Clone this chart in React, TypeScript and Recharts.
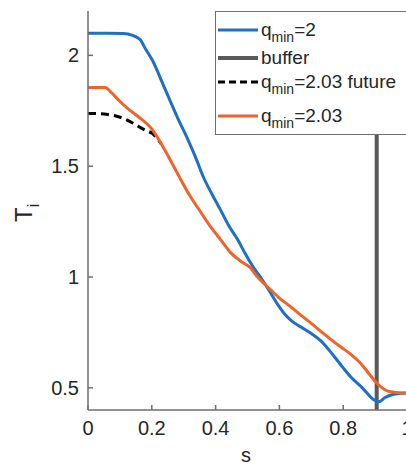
import { Label, Legend, Line, LineChart, ReferenceLine, XAxis, YAxis } from "recharts";

// s (normalised radius) vs T_i profiles
const qmin2 = [
  { s: 0, T: 2.1 },
  { s: 0.06, T: 2.1 },
  { s: 0.11, T: 2.099 },
  { s: 0.14, T: 2.09 },
  { s: 0.164, T: 2.07 },
  { s: 0.18, T: 2.03 },
  { s: 0.201, T: 1.98 },
  { s: 0.242, T: 1.846 },
  { s: 0.283, T: 1.711 },
  { s: 0.31, T: 1.63 },
  { s: 0.336, T: 1.544 },
  { s: 0.362, T: 1.45 },
  { s: 0.39, T: 1.37 },
  { s: 0.415, T: 1.304 },
  { s: 0.44, T: 1.235 },
  { s: 0.469, T: 1.169 },
  { s: 0.495, T: 1.1 },
  { s: 0.519, T: 1.042 },
  { s: 0.545, T: 0.99 },
  { s: 0.572, T: 0.929 },
  { s: 0.595, T: 0.875 },
  { s: 0.613, T: 0.839 },
  { s: 0.64, T: 0.8 },
  { s: 0.667, T: 0.775 },
  { s: 0.7, T: 0.745 },
  { s: 0.73, T: 0.712 },
  { s: 0.77, T: 0.645 },
  { s: 0.8, T: 0.59 },
  { s: 0.824, T: 0.549 },
  { s: 0.86, T: 0.5 },
  { s: 0.896, T: 0.446 },
  { s: 0.912, T: 0.437 },
  { s: 0.93, T: 0.455 },
  { s: 0.95, T: 0.468 },
  { s: 1, T: 0.477 }
];

const qmin203 = [
  { s: 0, T: 1.855 },
  { s: 0.053, T: 1.855 },
  { s: 0.075, T: 1.83 },
  { s: 0.094, T: 1.801 },
  { s: 0.125, T: 1.76 },
  { s: 0.157, T: 1.724 },
  { s: 0.201, T: 1.666 },
  { s: 0.23, T: 1.6 },
  { s: 0.252, T: 1.544 },
  { s: 0.285, T: 1.455 },
  { s: 0.321, T: 1.363 },
  { s: 0.35, T: 1.3 },
  { s: 0.384, T: 1.227 },
  { s: 0.415, T: 1.17 },
  { s: 0.447, T: 1.11 },
  { s: 0.48, T: 1.07 },
  { s: 0.509, T: 1.042 },
  { s: 0.531, T: 1.001 },
  { s: 0.572, T: 0.943 },
  { s: 0.6, T: 0.905 },
  { s: 0.635, T: 0.866 },
  { s: 0.665, T: 0.83 },
  { s: 0.698, T: 0.793 },
  { s: 0.73, T: 0.755 },
  { s: 0.76, T: 0.72 },
  { s: 0.792, T: 0.685 },
  { s: 0.825, T: 0.65 },
  { s: 0.855, T: 0.61 },
  { s: 0.875, T: 0.575 },
  { s: 0.896, T: 0.536 },
  { s: 0.918, T: 0.504 },
  { s: 0.935, T: 0.488 },
  { s: 0.95, T: 0.482 },
  { s: 0.975, T: 0.478 },
  { s: 1, T: 0.477 }
];

const qmin203Future = [
  { s: 0, T: 1.738 },
  { s: 0.05, T: 1.735 },
  { s: 0.09, T: 1.725 },
  { s: 0.117, T: 1.712 },
  { s: 0.14, T: 1.695 },
  { s: 0.157, T: 1.68 },
  { s: 0.18, T: 1.662 },
  { s: 0.201, T: 1.648 },
  { s: 0.23, T: 1.6 }
];

const bufferS = 0.905;
const xTicks = [0, 0.2, 0.4, 0.6, 0.8, 1];
const yTicks = [0.5, 1, 1.5, 2];

const legendItems = [
  { sub: "min", text: "=2", color: "#1f6fc4", dash: "", isQ: true },
  { sub: "", text: "buffer", color: "#5a5a5a", dash: "", isQ: false },
  { sub: "min", text: "=2.03 future", color: "#000000", dash: "7 4", isQ: true },
  { sub: "min", text: "=2.03", color: "#f0632b", dash: "", isQ: true }
];

const font = '"Liberation Sans", Arial, sans-serif';
const textColor = "#262626";
const axisColor = "#6e6e6e";

const rowCenters = [18, 46, 70, 104];

function LegendBox() {
  return (
    <div
      style={{
        position: "relative",
        width: 200,
        height: 124,
        background: "#fff",
        border: `1.5px solid ${axisColor}`,
        boxSizing: "border-box",
        fontFamily: font,
        fontSize: 19,
        color: textColor
      }}
    >
      {legendItems.map((item, i) => (
        <div
          key={i}
          style={{ position: "absolute", left: 2, top: rowCenters[i] - 12, height: 24, display: "flex", alignItems: "center" }}
        >
          <svg width={40} height={6} style={{ display: "block" }}>
            <line x1={0} y1={3} x2={40} y2={3} stroke={item.color} strokeWidth={item.color === "#5a5a5a" ? 4 : 3} strokeDasharray={item.dash || undefined} />
          </svg>
          <span style={{ marginLeft: 3, whiteSpace: "nowrap", lineHeight: "24px" }}>
            {item.isQ ? (
              <>
                q<sub style={{ fontSize: 14, verticalAlign: "-6px", lineHeight: 0 }}>{item.sub}</sub>
                {item.text}
              </>
            ) : (
              item.text
            )}
          </span>
        </div>
      ))}
    </div>
  );
}

export default function App() {
  return (
    <div style={{ position: "absolute", left: 0, top: 0, width: 406, height: 467, overflow: "hidden", background: "#fff" }}>
      <LineChart width={420} height={467} margin={{ top: 11, right: 13, bottom: 0, left: 0 }}>
        <XAxis
          xAxisId="main"
          type="number"
          dataKey="s"
          domain={[0, 1]}
          ticks={xTicks}
          tickSize={-5}
          tickMargin={16}
          height={57}
          stroke={axisColor}
          strokeWidth={1.5}
          tick={{ fill: textColor, fontSize: 20, fontFamily: font }}
          allowDuplicatedCategory={false}
        >
          <Label
            content={() => (
              <text x={246} y={462} textAnchor="middle" fontSize={20} fontFamily={font} fill={textColor}>
                s
              </text>
            )}
          />
        </XAxis>
        <XAxis
          xAxisId="top"
          orientation="top"
          type="number"
          dataKey="s"
          domain={[0, 1]}
          ticks={xTicks}
          tickSize={-5}
          height={0}
          stroke={axisColor}
          strokeWidth={1.5}
          tickFormatter={() => ""}
        />
        <YAxis
          type="number"
          domain={[0.4, 2.2]}
          ticks={yTicks}
          tickSize={-5}
          tickMargin={14}
          width={88}
          stroke={axisColor}
          strokeWidth={1.5}
          tick={{ fill: textColor, fontSize: 20, fontFamily: font }}
          tickFormatter={(v: number) => String(v)}
        >
          <Label
            content={() => (
              <text transform="translate(32,222) rotate(-90)" x={0} y={0} fontSize={24} fontFamily={font} fill={textColor}>
                T
                <tspan fontSize={16} dy={7}>
                  i
                </tspan>
              </text>
            )}
          />
        </YAxis>
        <ReferenceLine xAxisId="main" x={bufferS} stroke="#5a5a5a" strokeWidth={4} />
        <Line
          xAxisId="main"
          data={qmin2}
          dataKey="T"
          stroke="#1f6fc4"
          strokeWidth={3}
          dot={false}
          type="monotone"
          isAnimationActive={false}
        />
        <Line
          xAxisId="main"
          data={qmin203Future}
          dataKey="T"
          stroke="#000000"
          strokeWidth={3}
          strokeDasharray="8 5"
          dot={false}
          type="monotone"
          isAnimationActive={false}
        />
        <Line
          xAxisId="main"
          data={qmin203}
          dataKey="T"
          stroke="#f0632b"
          strokeWidth={3}
          dot={false}
          type="monotone"
          isAnimationActive={false}
        />
        <Legend
          layout="vertical"
          align="center"
          verticalAlign="middle"
          content={() => <LegendBox />}
          wrapperStyle={{ position: "absolute", left: 215, top: 11, width: 200, height: 124 }}
        />
      </LineChart>
    </div>
  );
}
